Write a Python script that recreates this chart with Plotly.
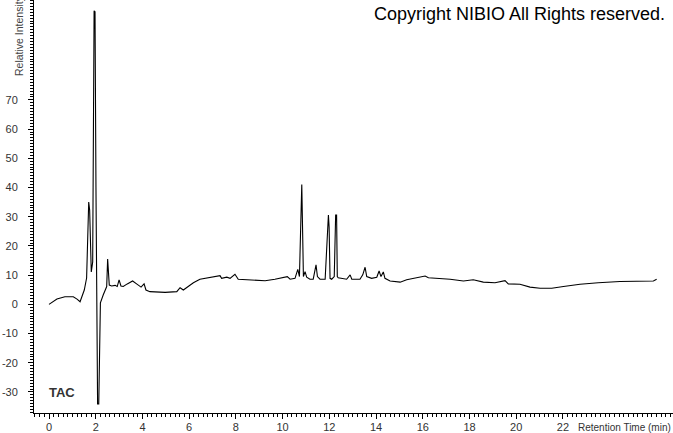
import plotly.graph_objects as go

# Retention time (min) and relative intensity (TAC)
time_min = [0.00, 0.34, 0.68, 1.04, 1.20, 1.33, 1.51, 1.61, 1.70, 1.74, 1.81, 1.87,
            1.93, 1.97, 2.01, 2.08, 2.13, 2.16, 2.20, 2.32, 2.47, 2.51, 2.58, 2.68,
            2.83, 2.92, 3.00, 3.08, 3.18, 3.35, 3.58, 3.75, 3.94, 4.07, 4.15, 4.32,
            4.97, 5.47, 5.61, 5.75, 6.18, 6.46, 6.89, 7.32, 7.39, 7.61, 7.75, 7.96,
            8.10, 8.60, 9.25, 9.67, 10.20, 10.32, 10.53, 10.65, 10.72, 10.82, 10.84,
            10.89, 10.96, 11.03, 11.17, 11.31, 11.43, 11.49, 11.60, 11.82, 11.96,
            11.99, 12.03, 12.10, 12.21, 12.27, 12.31, 12.34, 12.38, 12.74, 12.89,
            12.96, 13.31, 13.43, 13.53, 13.60, 13.81, 14.03, 14.13, 14.21, 14.31,
            14.38, 14.60, 15.03, 15.31, 15.60, 15.88, 16.10, 16.24, 16.60, 17.17,
            17.74, 18.16, 18.59, 19.09, 19.52, 19.66, 20.16, 20.59, 21.02, 21.52,
            22.02, 22.73, 23.51, 24.44, 25.87, 26.01]
intensity = [0.0, 1.8, 2.6, 2.6, 1.8, 0.9, 4.9, 9.0, 35.0, 32.3, 11.1, 14.5,
             100.5, 100.2, 40.1, -34.1, -34.1, -15.6, 0.5, 3.2, 6.1, 15.5, 6.6, 6.3,
             6.5, 6.1, 8.4, 6.3, 6.1, 7.0, 8.0, 7.0, 5.9, 7.0, 4.9, 4.35,
             4.1, 4.35, 5.7, 4.9, 7.4, 8.6, 9.1, 9.8, 8.9, 9.3, 8.9, 10.3,
             8.6, 8.4, 8.1, 8.6, 9.5, 8.6, 8.9, 12.0, 9.5, 41.0, 34.1,
             9.5, 11.2, 9.3, 8.6, 8.6, 13.5, 9.5, 8.6, 8.6, 30.6,
             26.6, 8.9, 8.6, 9.5, 30.6, 30.6, 9.5, 9.1, 8.6, 10.1,
             8.6, 8.6, 10.1, 12.7, 9.5, 8.9, 9.3, 11.4, 9.5, 11.1,
             8.9, 8.0, 7.6, 8.4, 8.9, 9.5, 9.7, 9.1, 8.9, 8.6,
             8.0, 8.4, 7.6, 7.4, 8.1, 7.0, 6.9, 5.9, 5.5, 5.5,
             6.1, 6.9, 7.4, 7.8, 8.0, 8.6]

x_ticks = [0, 2, 4, 6, 8, 10, 12, 14, 16, 18, 20, 22]
y_ticks = [-30, -20, -10, 0, 10, 20, 30, 40, 50, 60, 70]

FONT = "Liberation Sans, Arial, sans-serif"

fig = go.Figure()
fig.add_trace(go.Scatter(x=time_min, y=intensity, mode="lines",
                         line=dict(color="black", width=1.1), hoverinfo="skip"))

fig.update_layout(
    template="none",
    width=673, height=433,
    margin=dict(l=34, r=0, t=0, b=20, pad=0),
    paper_bgcolor="white", plot_bgcolor="white",
    showlegend=False,
    font=dict(family=FONT, size=11, color="#333333"),
    xaxis=dict(range=[-0.642, 26.71], tickmode="array", tickvals=x_ticks,
               ticktext=[str(v) for v in x_ticks], automargin=False,
               showline=True, linecolor="black", linewidth=1,
               ticks="outside", ticklen=5, tickcolor="black", tickwidth=1,
               ticklabelstandoff=-1,
               minor=dict(dtick=0.2, tick0=0, ticks="outside", ticklen=3,
                          tickcolor="black", tickwidth=1, showgrid=False),
               showgrid=False, zeroline=False, fixedrange=True),
    yaxis=dict(range=[-37.2, 104.2], tickmode="array", tickvals=y_ticks,
               ticktext=[str(v) for v in y_ticks], automargin=False,
               showline=True, linecolor="black", linewidth=1,
               ticks="outside", ticklen=5, tickcolor="black", tickwidth=1,
               ticklabelstandoff=8,
               minor=dict(dtick=1, tick0=0, ticks="outside", ticklen=3,
                          tickcolor="black", tickwidth=1, showgrid=False),
               showgrid=False, zeroline=False, fixedrange=True),
)

fig.add_annotation(text="Copyright NIBIO All Rights reserved.", xref="paper", yref="paper",
                   x=0.991, y=0.966, xanchor="right", yanchor="middle", showarrow=False,
                   font=dict(family=FONT, size=18, color="black"))
fig.add_annotation(text="Retention Time (min)", xref="paper", yref="paper",
                   x=0.848, y=-0.0339, xanchor="left", yanchor="middle", showarrow=False,
                   font=dict(family=FONT, size=10, color="#333333"))
fig.add_annotation(text="<b>TAC</b>", xref="paper", yref="paper",
                   x=0.0199, y=0.0508, xanchor="left", yanchor="middle", showarrow=False,
                   font=dict(family=FONT, size=13, color="#333333"))
fig.add_annotation(text="Relative Intensity", xref="paper", yref="paper",
                   x=-0.0243, y=0.811, xanchor="center", yanchor="bottom", textangle=-90,
                   showarrow=False, font=dict(family=FONT, size=10.5, color="#444444"))

fig.write_html("out.html", config={"displayModeBar": False},
               post_script="document.body.style.margin='0';document.body.style.overflow='hidden';")
